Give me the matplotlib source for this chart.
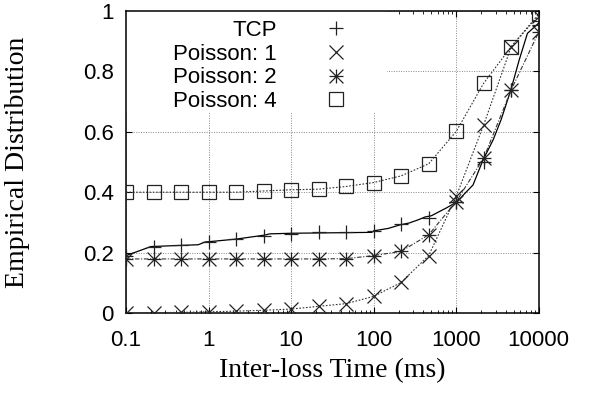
import matplotlib
matplotlib.use('Agg')
import matplotlib.pyplot as plt
from matplotlib.path import Path
from matplotlib.patches import Rectangle
from matplotlib.ticker import FixedLocator, FixedFormatter, LogLocator, NullFormatter

# sample points: 3 per decade from 0.1 to 10000 ms
x_pts = [0.1, 0.215, 0.464, 1, 2.15, 4.64, 10, 21.5, 46.4, 100, 215, 464, 1000, 2154, 4642, 10000]

tcp_pts = [0.19, 0.22, 0.224, 0.235, 0.245, 0.256, 0.262, 0.267, 0.267, 0.27, 0.295, 0.314, 0.369, 0.50, 0.739, 0.955]
poisson1 = [0.0, 0.001, 0.002, 0.004, 0.006, 0.009, 0.013, 0.022, 0.031, 0.055, 0.101, 0.19, 0.386, 0.623, 0.882, 0.985]
poisson2 = [0.179, 0.179, 0.179, 0.179, 0.179, 0.179, 0.179, 0.179, 0.18, 0.19, 0.204, 0.259, 0.369, 0.513, 0.739, 0.93]
poisson4 = [0.40, 0.40, 0.40, 0.40, 0.40, 0.404, 0.408, 0.41, 0.419, 0.432, 0.454, 0.494, 0.601, 0.761, 0.882, 0.99]

# TCP empirical CDF line (denser than the markers)
tcp_line_x = [0.1, 0.2, 0.75, 0.9, 1.2, 2.2, 4.8, 5.5, 10, 95, 100, 150, 210, 270, 350, 420, 500,
              750, 1000, 1600, 2100, 2800, 3500, 4600, 5800, 7300, 10000]
tcp_line_y = [0.19, 0.22, 0.226, 0.235, 0.238, 0.245, 0.258, 0.262, 0.264, 0.267, 0.272, 0.28, 0.292,
              0.298, 0.309, 0.318, 0.322, 0.347, 0.366, 0.424, 0.505, 0.573, 0.64, 0.739, 0.838, 0.926, 0.96]

x_ticks = [0.1, 1, 10, 100, 1000, 10000]
x_ticklabels = ['0.1', '1', '10', '100', '1000', '10000']
y_ticks = [0, 0.2, 0.4, 0.6, 0.8, 1]
y_ticklabels = ['0', '0.2', '0.4', '0.6', '0.8', '1']

sans = 'Liberation Sans'
serif = 'Liberation Serif'

# gnuplot style "*" = plus overlaid with cross
star = Path([(-1, 0), (1, 0), (0, -1), (0, 1), (-1, -1), (1, 1), (-1, 1), (1, -1)],
            [Path.MOVETO, Path.LINETO] * 4)

fig = plt.figure(figsize=(5.92, 3.93), dpi=100)
ax = fig.add_axes([0.213, 0.2036, 0.697, 0.7684])

lc = '#333333'
mc = '#222222'
ax.plot(tcp_line_x, tcp_line_y, color='black', lw=0.9, zorder=3)
ax.plot(x_pts, poisson1, color=lc, lw=0.8, dashes=(1.5, 1.5), zorder=3)
ax.plot(x_pts, poisson2, color=lc, lw=0.8, dashes=(4, 1.5, 1, 1.5), zorder=3)
ax.plot(x_pts, poisson4, color=lc, lw=0.8, dashes=(1.5, 1.5), zorder=3)

ax.plot(x_pts, tcp_pts, ls='none', marker='+', ms=10, mew=0.9, color=mc, label='TCP', zorder=4)
ax.plot(x_pts, poisson1, ls='none', marker='x', ms=10, mew=0.9, color=mc, label='Poisson: 1', zorder=4)
ax.plot(x_pts, poisson2, ls='none', marker=star, ms=10, mew=0.9, color=mc, label='Poisson: 2', zorder=4)
ax.plot(x_pts, poisson4, ls='none', marker='s', ms=10.5, mew=0.9, color=mc, mfc='none',
        label='Poisson: 4', zorder=4)

ax.set_xscale('log')
ax.set_xlim(0.1, 10000)
ax.set_ylim(0, 1)
ax.xaxis.set_major_locator(FixedLocator(x_ticks))
ax.xaxis.set_major_formatter(FixedFormatter(x_ticklabels))
ax.xaxis.set_minor_locator(LogLocator(base=10, subs=(2, 3, 4, 5, 6, 7, 8, 9)))
ax.xaxis.set_minor_formatter(NullFormatter())
ax.yaxis.set_major_locator(FixedLocator(y_ticks))
ax.yaxis.set_major_formatter(FixedFormatter(y_ticklabels))

ax.grid(True, which='major', color='#888888', lw=0.7, ls=(0, (1, 1.5)))
ax.set_axisbelow(True)
# key area blanks the grid, like gnuplot
ax.add_patch(Rectangle((0.0, 0.662), 0.632, 0.338, transform=ax.transAxes,
                       facecolor='white', edgecolor='none', zorder=1.5))

ax.tick_params(which='both', direction='in', top=True, right=True, colors='black')
ax.tick_params(which='major', length=4.5, width=0.8, labelsize=16)
ax.tick_params(axis='x', which='major', pad=12)
ax.tick_params(axis='y', which='major', pad=9)
ax.tick_params(which='minor', length=2.5, width=0.6)
for lab in ax.get_xticklabels() + ax.get_yticklabels():
    lab.set_fontname(sans)
for sp in ax.spines.values():
    sp.set_linewidth(1.1)

ax.set_xlabel('Inter-loss Time (ms)', fontsize=20, fontname=serif, labelpad=5)
ax.set_ylabel('Empirical Distribution', fontsize=20, fontname=serif, labelpad=38)

leg = ax.legend(loc='upper right', bbox_to_anchor=(0.562, 0.97), frameon=False, markerfirst=False,
                handlelength=2.0, handletextpad=1.66, borderpad=0, borderaxespad=0,
                labelspacing=0.12, prop={'family': sans, 'size': 16})
leg.set_zorder(5)

plt.savefig('out.png', dpi=100)
